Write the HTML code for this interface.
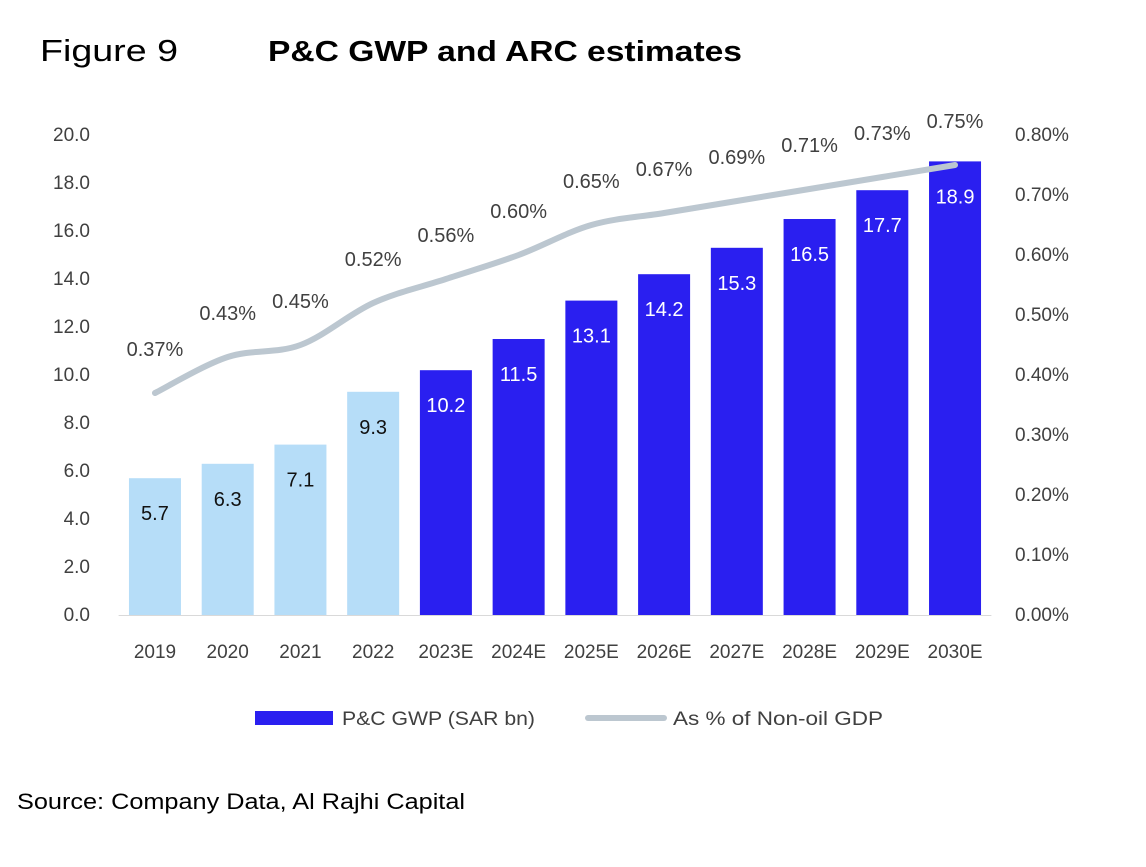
<!DOCTYPE html>
<html><head><meta charset="utf-8"><style>
body{margin:0;background:#fff;width:1146px;height:867px;overflow:hidden;font-family:"Liberation Sans",sans-serif}
</style></head><body>
<svg width="1146" height="867" style="position:absolute;left:0;top:0">
<text x="40" y="61" font-size="31" textLength="138" lengthAdjust="spacingAndGlyphs" fill="#000">Figure 9</text>
<text x="268" y="61" font-size="29" textLength="474" lengthAdjust="spacingAndGlyphs" font-weight="bold" fill="#000">P&amp;C GWP and ARC estimates</text>
<g id="plot"></g>
<g>
<rect x="255" y="711" width="78" height="14" fill="#2a1ff0"/>
<text x="342" y="725" font-size="19" textLength="193" lengthAdjust="spacingAndGlyphs" fill="#404040">P&amp;C GWP (SAR bn)</text>
<line x1="588" y1="718" x2="664" y2="718" stroke="#bcc7d0" stroke-width="6" stroke-linecap="round"/>
<text x="673" y="725" font-size="19" textLength="210" lengthAdjust="spacingAndGlyphs" fill="#404040">As % of Non-oil GDP</text>
</g>
<text x="17" y="809" font-size="22" textLength="448" lengthAdjust="spacingAndGlyphs" fill="#000">Source: Company Data, Al Rajhi Capital</text>
</svg>
<script>
const categories=["2019","2020","2021","2022","2023E","2024E","2025E","2026E","2027E","2028E","2029E","2030E"];
const gwp=[5.7,6.3,7.1,9.3,10.2,11.5,13.1,14.2,15.3,16.5,17.7,18.9];
const pct=[0.37,0.43,0.45,0.52,0.56,0.60,0.65,0.67,0.69,0.71,0.73,0.75];
const leftTicks=[0,2,4,6,8,10,12,14,16,18,20];
const rightTicks=[0,0.1,0.2,0.3,0.4,0.5,0.6,0.7,0.8];
const isEstimate=[false,false,false,false,true,true,true,true,true,true,true,true];

const NS="http://www.w3.org/2000/svg";
const g=document.getElementById('plot');
const X0=118.6,X1=991.4,Y0=615,Y1=135;
const bw=(X1-X0)/categories.length;
const xc=i=>X0+bw*(i+0.5);
const yL=v=>Y0-(v/20)*(Y0-Y1);
const yR=v=>Y0-(v/0.8)*(Y0-Y1);
function mk(tag,attrs,txt){const e=document.createElementNS(NS,tag);for(const k in attrs)e.setAttribute(k,attrs[k]);if(txt!==undefined)e.textContent=txt;g.appendChild(e);return e;}

leftTicks.forEach(t=>{const e=mk('text',{x:90,y:yL(t)+6,'font-size':19,fill:'#404040','text-anchor':'end'},t.toFixed(1));

});
rightTicks.forEach(t=>{const e=mk('text',{x:1015,y:yR(t)+6,'font-size':19,fill:'#404040'},t.toFixed(2)+'%');

});
const ax=mk('line',{x1:X0,x2:X1,y1:Y0+0.5,y2:Y0+0.5,stroke:'#d9d9d9','stroke-width':1});



categories.forEach((c,i)=>{
 const top=yL(gwp[i]);
 const r=mk('rect',{x:xc(i)-26,y:top,width:52,height:Y0-top,fill:isEstimate[i]?'#2a1ff0':'#b6ddf8'});
 
 
 const v=mk('text',{x:xc(i),y:top+42,'font-size':20,'text-anchor':'middle',fill:isEstimate[i]?'#fff':'#111'},gwp[i].toFixed(1));
 
 
 const t=mk('text',{x:xc(i),y:658,'font-size':19,'text-anchor':'middle',fill:'#404040'},c);
 
 
});
const pts=pct.map((p,i)=>[xc(i),yR(p)]);
let d='M'+pts[0][0]+','+pts[0][1];
for(let i=0;i<pts.length-1;i++){
 const p0=pts[Math.max(0,i-1)],p1=pts[i],p2=pts[i+1],p3=pts[Math.min(pts.length-1,i+2)];
 const k=1/6;
 d+=` C${p1[0]+(p2[0]-p0[0])*k},${p1[1]+(p2[1]-p0[1])*k} ${p2[0]-(p3[0]-p1[0])*k},${p2[1]-(p3[1]-p1[1])*k} ${p2[0]},${p2[1]}`;
}
const ln=mk('path',{d:d,fill:'none',stroke:'#bcc7d0','stroke-width':6,'stroke-linecap':'round'});


pts.forEach((p,i)=>{const e=mk('text',{x:p[0],y:p[1]-37,'font-size':20,'text-anchor':'middle',fill:'#404040'},pct[i].toFixed(2)+'%');

});
</script>
</body></html>
